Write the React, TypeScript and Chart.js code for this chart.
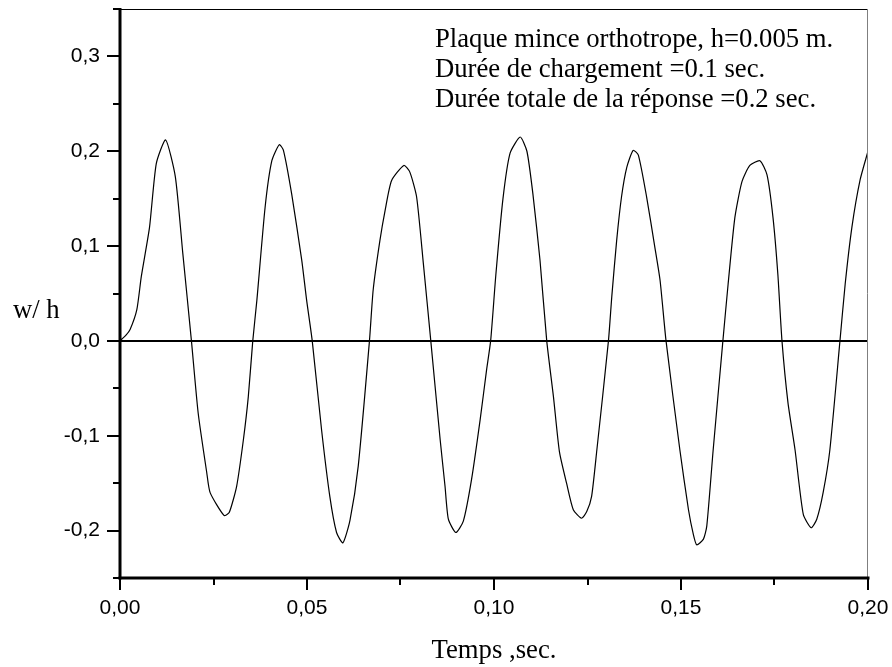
import React, { useEffect, useRef } from 'react';
import { Chart, registerables } from 'chart.js';

Chart.register(...registerables);

// Time (s) and dimensionless deflection w/h
const TIME = [
  0, 0.0005, 0.0016, 0.0027, 0.0045, 0.0057, 0.0079, 0.0097, 0.0122, 0.0148, 0.0168,
  0.0191, 0.0209, 0.0232, 0.0241, 0.0278, 0.0292, 0.0312, 0.033, 0.0343,
  0.0355, 0.0366, 0.0388, 0.0406, 0.0426, 0.0437, 0.0459, 0.0486, 0.0499,
  0.0514, 0.0539, 0.0561, 0.0579, 0.0596, 0.0615, 0.0637,
  0.0667, 0.0677, 0.0695, 0.0709, 0.0726, 0.0759, 0.0775, 0.0793, 0.0811,
  0.0831, 0.0856, 0.0869, 0.0878, 0.0898, 0.0918, 0.094, 0.0963, 0.098,
  0.0991, 0.1005, 0.1024, 0.1043, 0.107, 0.1088, 0.1104, 0.1123,
  0.1141, 0.1159, 0.1175, 0.1194, 0.1212, 0.1234, 0.1248, 0.1261, 0.1275,
  0.1306, 0.1315, 0.1328, 0.1341, 0.1355, 0.1372, 0.1386, 0.1408, 0.143, 0.1444,
  0.146, 0.1497, 0.152, 0.1533, 0.1542, 0.156, 0.1569, 0.1586,
  0.1612, 0.1626, 0.1644, 0.1663, 0.1684, 0.1711, 0.173, 0.1746, 0.1759,
  0.177, 0.1786, 0.1805, 0.1827, 0.1848, 0.1863, 0.188, 0.1898,
  0.1925, 0.1939, 0.1957, 0.1979, 0.2,
];
const DEFLECTION = [
  0, 0.002, 0.006, 0.012, 0.033, 0.068, 0.12, 0.187, 0.212, 0.173, 0.092,
  0, -0.076, -0.139, -0.16, -0.184, -0.181, -0.153, -0.104, -0.059,
  0, 0.043, 0.141, 0.19, 0.207, 0.201, 0.155, 0.085, 0.043,
  0, -0.094, -0.164, -0.202, -0.213, -0.189, -0.132,
  0, 0.054, 0.106, 0.138, 0.169, 0.185, 0.178, 0.152, 0.082,
  0, -0.104, -0.153, -0.188, -0.202, -0.19, -0.146, -0.083, -0.031,
  0, 0.07, 0.15, 0.198, 0.215, 0.2, 0.155, 0.085,
  0, -0.059, -0.117, -0.15, -0.178, -0.187, -0.18, -0.164, -0.115,
  0, 0.047, 0.106, 0.152, 0.183, 0.201, 0.196, 0.152, 0.099, 0.064,
  0, -0.115, -0.178, -0.204, -0.215, -0.209, -0.195, -0.115,
  0, 0.06, 0.13, 0.168, 0.185, 0.19, 0.175, 0.13, 0.07,
  0, -0.065, -0.115, -0.183, -0.197, -0.188, -0.16, -0.115,
  0, 0.06, 0.12, 0.17, 0.2,
];

const X_MIN = 0;
const X_MAX = 0.2;
const Y_MIN = -0.25;
const Y_MAX = 0.35;
const X_STEP = 0.025;
const Y_STEP = 0.05;
const X_TICK_VALUES = [0, 0.05, 0.1, 0.15, 0.2];
const X_TICK_LABELS = ['0,00', '0,05', '0,10', '0,15', '0,20'];
const Y_TICK_VALUES = [-0.2, -0.1, 0, 0.1, 0.2, 0.3];
const Y_TICK_LABELS = ['-0,2', '-0,1', '0,0', '0,1', '0,2', '0,3'];
const X_TITLE = 'Temps ,sec.';
const Y_TITLE = 'w/ h';
const NOTES = [
  'Plaque mince orthotrope, h=0.005 m.',
  'Durée de chargement =0.1 sec.',
  'Durée totale de la réponse =0.2 sec.',
];

const SANS = '"Liberation Sans", Arial, sans-serif';
const SERIF = '"Liberation Serif", "Times New Roman", serif';

function labelFor(v: number, values: number[], labels: string[]): string {
  const i = values.findIndex((t) => Math.abs(t - v) < 1e-6);
  return i >= 0 ? labels[i] : '';
}

const decorPlugin = {
  id: 'decor',
  afterDatasetsDraw(chart: any) {
    const { ctx, chartArea: a, scales } = chart;
    const x = scales.x;
    const y = scales.y;
    ctx.save();
    // frame top & right
    ctx.lineWidth = 1;
    ctx.strokeStyle = '#000';
    ctx.beginPath();
    ctx.moveTo(a.left, a.top + 0.5);
    ctx.lineTo(a.right, a.top + 0.5);
    ctx.stroke();
    ctx.strokeStyle = '#7f7f7f';
    ctx.beginPath();
    ctx.moveTo(a.right - 0.5, a.top);
    ctx.lineTo(a.right - 0.5, a.bottom);
    ctx.stroke();
    // axes
    ctx.strokeStyle = '#000';
    ctx.lineWidth = 3;
    ctx.beginPath();
    ctx.moveTo(a.left, a.top - 1);
    ctx.lineTo(a.left, a.bottom + 1.5);
    ctx.stroke();
    ctx.beginPath();
    ctx.moveTo(a.left - 1.5, a.bottom);
    ctx.lineTo(a.right + 1.5, a.bottom);
    ctx.stroke();
    // ticks
    ctx.lineWidth = 2;
    y.ticks.forEach((t: any) => {
      const py = Math.round(y.getPixelForValue(t.value));
      const len = t.label ? 13 : 7;
      ctx.beginPath();
      ctx.moveTo(a.left - len, py);
      ctx.lineTo(a.left, py);
      ctx.stroke();
    });
    x.ticks.forEach((t: any) => {
      const px = Math.round(x.getPixelForValue(t.value));
      const len = t.label ? 12 : 7;
      ctx.beginPath();
      ctx.moveTo(px, a.bottom);
      ctx.lineTo(px, a.bottom + len);
      ctx.stroke();
    });
    // texts
    ctx.fillStyle = '#000';
    ctx.font = '26.7px ' + SERIF;
    ctx.textBaseline = 'alphabetic';
    ctx.textAlign = 'left';
    NOTES.forEach((n, i) => ctx.fillText(n, 435, 47 + i * 30));
    ctx.fillText(Y_TITLE, 13, 318);
    ctx.textAlign = 'center';
    ctx.fillText(X_TITLE, (a.left + a.right) / 2, 658);
    ctx.restore();
  },
};

export default function App() {
  const ref = useRef<HTMLCanvasElement>(null);
  useEffect(() => {
    if (!ref.current) return;
    const chart = new Chart(ref.current, {
      type: 'scatter',
      data: {
        datasets: [
          {
            data: TIME.map((t, i) => ({ x: t, y: DEFLECTION[i] })),
            showLine: true,
            borderColor: '#000',
            borderWidth: 1.2,
            pointRadius: 0,
            tension: 0.2,
            fill: false,
          },
          {
            data: [
              { x: X_MIN, y: 0 },
              { x: X_MAX, y: 0 },
            ],
            showLine: true,
            borderColor: '#000',
            borderWidth: 2,
            pointRadius: 0,
            fill: false,
          },
        ],
      },
      options: {
        animation: false,
        responsive: false,
        devicePixelRatio: 1,
        events: [],
        layout: { padding: { left: 0, top: 9, right: 24, bottom: 0 } },
        plugins: { legend: { display: false }, tooltip: { enabled: false } },
        scales: {
          x: {
            type: 'linear',
            min: X_MIN,
            max: X_MAX,
            grid: { display: false, drawTicks: false },
            border: { display: false },
            ticks: {
              stepSize: X_STEP,
              autoSkip: false,
              maxRotation: 0,
              minRotation: 0,
              padding: 18,
              color: '#000',
              font: { family: SANS, size: 21 },
              callback: (v: any) => labelFor(Number(v), X_TICK_VALUES, X_TICK_LABELS),
            },
            afterFit: (s: any) => {
              s.height = 89;
              s.paddingLeft = 0;
              s.paddingRight = 0;
            },
          },
          y: {
            type: 'linear',
            min: Y_MIN,
            max: Y_MAX,
            grid: { display: false, drawTicks: false },
            border: { display: false },
            ticks: {
              stepSize: Y_STEP,
              autoSkip: false,
              padding: 20,
              color: '#000',
              font: { family: SANS, size: 21 },
              callback: (v: any) => labelFor(Number(v), Y_TICK_VALUES, Y_TICK_LABELS),
            },
            afterFit: (s: any) => {
              s.width = 120;
              s.paddingTop = 0;
              s.paddingBottom = 0;
            },
          },
        },
      },
      plugins: [decorPlugin],
    } as any);
    return () => chart.destroy();
  }, []);
  return (
    <div style={{ position: 'fixed', left: 0, top: 0, width: 892, height: 667, background: '#fff' }}>
      <canvas ref={ref} width={892} height={667} style={{ width: 892, height: 667, display: 'block' }} />
    </div>
  );
}
